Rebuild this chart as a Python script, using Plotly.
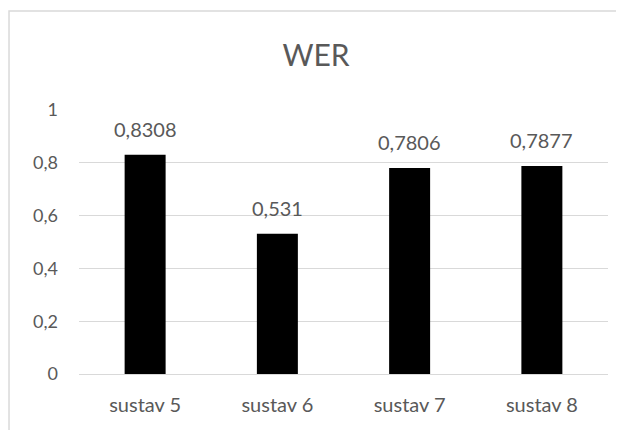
import plotly.graph_objects as go

categories = ["sustav 5", "sustav 6", "sustav 7", "sustav 8"]
wer_values = [0.8308, 0.531, 0.7806, 0.7877]
wer_labels = ["0,8308", "0,531", "0,7806", "0,7877"]
tick_vals = [0, 0.2, 0.4, 0.6, 0.8, 1]
tick_text = ["0", "0,2", "0,4", "0,6", "0,8", "1"]

FONT = "Lato"
GRAY = "#595959"

fig = go.Figure()
fig.add_trace(go.Bar(x=categories, y=wer_values, marker=dict(color="black", line=dict(width=0)),
                     hoverinfo="skip"))

for c, v, t in zip(categories, wer_values, wer_labels):
    fig.add_annotation(x=c, y=v, text=t, showarrow=False, yanchor="bottom", yshift=12,
                       font=dict(family=FONT, size=20, color=GRAY))

fig.add_shape(type="rect", xref="paper", yref="paper", x0=-0.1323, x1=1.05, y0=-0.25, y1=1.375,
              line=dict(color="#d9d9d9", width=1.5), fillcolor="rgba(0,0,0,0)", layer="below")

fig.update_layout(
    width=616, height=422,
    margin=dict(l=71, r=16, t=102, b=56),
    paper_bgcolor="white", plot_bgcolor="white",
    bargap=0.69,
    showlegend=False,
    title=dict(text="WER", x=0.5, xanchor="center", y=1 - 47 / 422, yanchor="middle",
               font=dict(family=FONT, size=30, color=GRAY)),
    font=dict(family=FONT, size=18, color=GRAY),
)
fig.update_yaxes(range=[0, 1], tickvals=tick_vals, ticktext=tick_text, showgrid=True,
                 gridcolor="#d9d9d9", gridwidth=1, zeroline=False, showline=False,
                 ticks="", ticklabelstandoff=20, tickfont=dict(family=FONT, size=18, color=GRAY))
fig.update_xaxes(showline=True, linecolor="#d9d9d9", linewidth=1, ticks="", ticklabelstandoff=13,
                 tickfont=dict(family=FONT, size=20, color=GRAY))

fig.write_html("out.html")
